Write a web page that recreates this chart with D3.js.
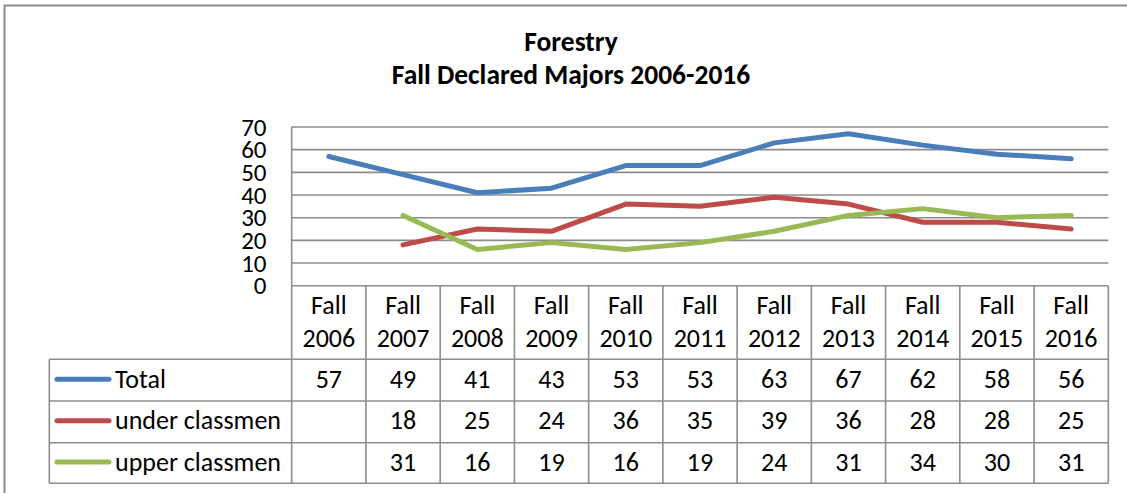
<!DOCTYPE html>
<html>
<head>
<meta charset="utf-8">
<script src="https://cdn.jsdelivr.net/npm/d3@7"></script>
<style>
  html, body { margin: 0; padding: 0; background: #fff; }
  svg { display: block; font-family: Carlito, Calibri, Lato, "Open Sans", sans-serif; }
</style>
</head>
<body>
<svg id="chart" width="1127" height="493"></svg>
<script>
// Fall declared majors, Forestry
const years = ["2006", "2007", "2008", "2009", "2010", "2011", "2012", "2013", "2014", "2015", "2016"];
const seriesNames = ["Total", "under classmen", "upper classmen"];
const total = [57, 49, 41, 43, 53, 53, 63, 67, 62, 58, 56];
const underClassmen = [null, 18, 25, 24, 36, 35, 39, 36, 28, 28, 25];
const upperClassmen = [null, 31, 16, 19, 16, 19, 24, 31, 34, 30, 31];
const yTicks = [0, 10, 20, 30, 40, 50, 60, 70];
const colors = ["#4A7EBB", "#BE4B48", "#98B954"];

const series = [total, underClassmen, upperClassmen];

const svg = d3.select("#chart");
const gridColor = "#8C8C8C";
const bodySize = 26;

// chart frame
svg.append("rect")
  .attr("x", 4.5).attr("y", 5.5)
  .attr("width", 1140).attr("height", 500)
  .attr("fill", "#fff").attr("stroke", "#8C8C8C").attr("stroke-width", 2);

// title
const title = svg.append("text")
  .attr("text-anchor", "middle")
  .attr("font-weight", "bold")
  .attr("font-size", 27.5)
  .attr("fill", "#000");
title.append("tspan").attr("x", 571).attr("y", 51).text("Forestry");
title.append("tspan").attr("x", 571).attr("y", 83.5).text("Fall Declared Majors 2006-2016");

// plot area
const plotLeft = 291.7, plotRight = 1108.3, plotTop = 127, plotBottom = 285.7;

const x = d3.scaleBand().domain(years).range([plotLeft, plotRight]).padding(0);
const y = d3.scaleLinear().domain([0, 70]).range([plotBottom, plotTop]);

// horizontal gridlines
svg.append("g").selectAll("line")
  .data(yTicks)
  .join("line")
  .attr("x1", plotLeft).attr("x2", plotRight)
  .attr("y1", d => y(d)).attr("y2", d => y(d))
  .attr("stroke", gridColor).attr("stroke-width", 1.6);

// left edge of plot
svg.append("line")
  .attr("x1", plotLeft).attr("x2", plotLeft)
  .attr("y1", plotTop).attr("y2", plotBottom)
  .attr("stroke", gridColor).attr("stroke-width", 1.6);

// y axis labels
const yAxis = d3.axisLeft(y).tickValues(yTicks).tickSize(0).tickPadding(0);
const yG = svg.append("g")
  .attr("transform", `translate(${266.5},0)`)
  .call(yAxis);
yG.select(".domain").remove();
yG.selectAll("text")
  .attr("font-size", 25)
  .attr("font-family", "Carlito, Calibri, Lato, 'Open Sans', sans-serif")
  .attr("fill", "#000")
  .attr("dy", "0.33em");

// lines
const line = d3.line()
  .defined(d => d != null)
  .x((d, i) => x(years[i]) + x.bandwidth() / 2)
  .y(d => y(d));

svg.append("g").selectAll("path")
  .data(series)
  .join("path")
  .attr("d", d => line(d))
  .attr("fill", "none")
  .attr("stroke", (d, i) => colors[i])
  .attr("stroke-width", 5)
  .attr("stroke-linecap", "round")
  .attr("stroke-linejoin", "round");

// data table
const tableLeft = 49.3;
const headerTop = plotBottom;
const rowBounds = [359.3, 401, 442.7, 483.3];

const tbl = svg.append("g");

// vertical column separators (header + body)
const colEdges = years.map(d => x(d)).concat([plotRight]);
tbl.selectAll("line.col")
  .data(colEdges)
  .join("line")
  .attr("class", "col")
  .attr("x1", d => d).attr("x2", d => d)
  .attr("y1", headerTop).attr("y2", rowBounds[3])
  .attr("stroke", gridColor).attr("stroke-width", 1.6);

// legend column left edge
tbl.append("line")
  .attr("x1", tableLeft).attr("x2", tableLeft)
  .attr("y1", rowBounds[0]).attr("y2", rowBounds[3])
  .attr("stroke", gridColor).attr("stroke-width", 1.6);

// row separators
tbl.selectAll("line.row")
  .data(rowBounds)
  .join("line")
  .attr("class", "row")
  .attr("x1", tableLeft).attr("x2", plotRight)
  .attr("y1", d => d).attr("y2", d => d)
  .attr("stroke", gridColor).attr("stroke-width", 1.6);

// header labels
const hdr = tbl.append("g").selectAll("text")
  .data(years)
  .join("text")
  .attr("text-anchor", "middle")
  .attr("font-size", bodySize)
  .attr("fill", "#000");
hdr.append("tspan")
  .attr("x", d => x(d) + x.bandwidth() / 2).attr("y", 314)
  .text("Fall");
hdr.append("tspan")
  .attr("x", d => x(d) + x.bandwidth() / 2).attr("y", 346.5)
  .text(d => d);

// body rows
series.forEach((vals, r) => {
  const cy = (rowBounds[r] + rowBounds[r + 1]) / 2;
  const g = tbl.append("g");
  g.append("line")
    .attr("x1", 57).attr("x2", 109)
    .attr("y1", cy - 1).attr("y2", cy - 1)
    .attr("stroke", colors[r]).attr("stroke-width", 5)
    .attr("stroke-linecap", "round");
  g.append("text")
    .attr("x", 115).attr("y", cy + 7.5)
    .attr("font-size", bodySize).attr("fill", "#000")
    .text(seriesNames[r]);
  g.selectAll("text.val")
    .data(vals)
    .join("text")
    .attr("class", "val")
    .attr("x", (d, i) => x(years[i]) + x.bandwidth() / 2)
    .attr("y", cy + 7.5)
    .attr("text-anchor", "middle")
    .attr("font-size", bodySize).attr("fill", "#000")
    .text(d => d == null ? "" : d);
});
</script>
</body>
</html>
